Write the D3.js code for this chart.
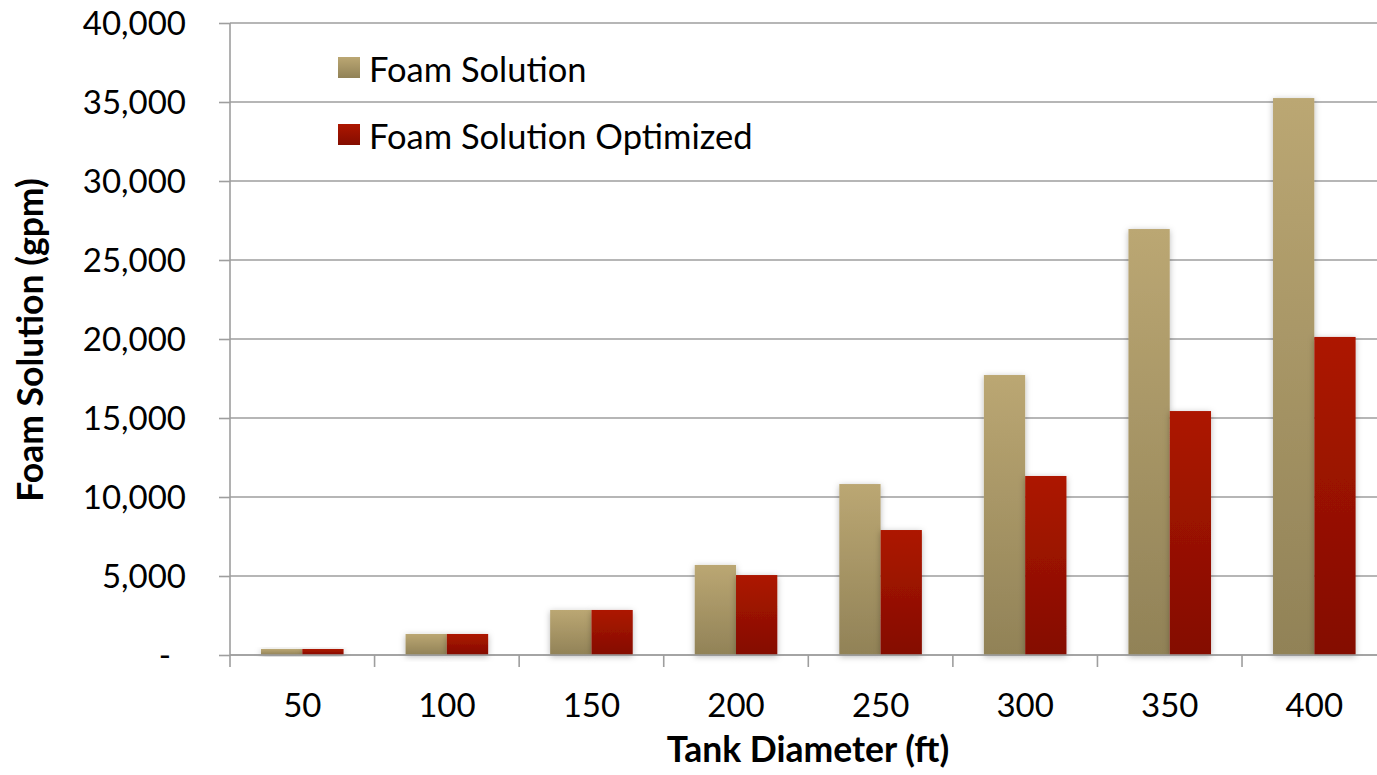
<!DOCTYPE html>
<html><head><meta charset="utf-8">
<script src="https://cdn.jsdelivr.net/npm/d3@7"></script>
<style>body{margin:0;background:#fff}svg{display:block}text{font-family:Lato,"Open Sans",sans-serif}</style>
</head><body>
<svg id="c" width="1377" height="775"></svg>
<script>
const categories = ["50","100","150","200","250","300","350","400"];
const seriesNames = ["Foam Solution","Foam Solution Optimized"];
const foamSolution = [380, 1330, 2850, 5700, 10820, 17720, 26960, 35250];
const foamOptimized = [380, 1330, 2850, 5060, 7910, 11330, 15440, 20130];
const yTicks = [0,5000,10000,15000,20000,25000,30000,35000,40000];

(function(){
const svg = d3.select("#c");
const defs = svg.append("defs");
const grads = [["g0","#BBA773","#918257"],["g1","#AD1600","#840D00"]];
grads.forEach(([id,a,b])=>{
  const g = defs.append("linearGradient").attr("id",id).attr("x1",0).attr("y1",0).attr("x2",0).attr("y2",1);
  g.append("stop").attr("offset","0%").attr("stop-color",a);
  g.append("stop").attr("offset","100%").attr("stop-color",b);
});
const f = defs.append("filter").attr("id","sh").attr("x","-30%").attr("y","-30%").attr("width","160%").attr("height","160%");
f.append("feDropShadow").attr("dx",0).attr("dy",1.5).attr("stdDeviation",3).attr("flood-color","#000").attr("flood-opacity",0.28);

const pLeft = 230, pRight = 1386.6, pTop = 23, pBottom = 655;
const x = d3.scaleBand().domain(categories).range([pLeft,pRight]).padding(0);
const step = x.step();
const gap = 31;
const x1 = d3.scaleBand().domain(seriesNames).range([gap, step-gap]).padding(0);
const y = d3.scaleLinear().domain([0,40000]).range([pBottom, pTop]);

const yAxis = d3.axisLeft(y).tickValues(yTicks).tickSize(11)
  .tickFormat(d => d===0 ? "-" : d3.format(",")(d));
const ga = svg.append("g").attr("transform",`translate(${pLeft},0)`).call(yAxis);
ga.select(".domain").remove();
ga.selectAll(".tick line").attr("stroke","#9E9E9E").attr("stroke-width",1.6);
ga.selectAll(".tick text").attr("x",-44).attr("dy","0.36em").attr("font-size",33).attr("fill","#000");
ga.selectAll(".tick").filter(d=>d===0).select("text").attr("x",-59);
svg.append("g").selectAll("line").data(yTicks).join("line")
  .attr("x1",pLeft).attr("x2",1377).attr("y1",d=>y(d)).attr("y2",d=>y(d))
  .attr("stroke","#9E9E9E").attr("stroke-width",1.6);
svg.append("line").attr("x1",pLeft).attr("x2",pLeft).attr("y1",pTop).attr("y2",pBottom+1)
  .attr("stroke","#9E9E9E").attr("stroke-width",1.6);

const data = categories.map((c,i)=>({c, vals:[foamSolution[i], foamOptimized[i]]}));
const gb = svg.append("g");
data.forEach(d=>{
  d.vals.forEach((v,j)=>{
    gb.append("rect").attr("x", x(d.c)+x1(seriesNames[j])).attr("width", x1.bandwidth())
      .attr("y", y(v)).attr("height", y(0)-y(v)).attr("fill",`url(#g${j})`).attr("filter","url(#sh)");
  });
});

const xAxis = d3.axisBottom(x).tickSize(0).tickPadding(0);
const gx = svg.append("g").attr("transform",`translate(0,${pBottom})`).call(xAxis);
gx.select(".domain").remove();
gx.selectAll(".tick text").attr("y",62).attr("dy",0).attr("font-size",33).attr("fill","#000");
svg.append("line").attr("x1",pLeft).attr("x2",1377).attr("y1",pBottom).attr("y2",pBottom)
  .attr("stroke","#9E9E9E").attr("stroke-width",1.6);
svg.append("g").selectAll("line").data(categories.concat(["end"])).join("line")
  .attr("x1",d=>d==="end"?pRight:x(d)).attr("x2",d=>d==="end"?pRight:x(d))
  .attr("y1",pBottom).attr("y2",pBottom+12).attr("stroke","#9E9E9E").attr("stroke-width",1.6);

svg.append("text").attr("x",808).attr("y",762).attr("text-anchor","middle")
  .attr("font-size",35.5).attr("font-weight","bold").text("Tank Diameter (ft)");
svg.append("text").attr("transform","translate(43,340) rotate(-90)").attr("text-anchor","middle")
  .attr("font-size",35.5).attr("font-weight","bold").text("Foam Solution (gpm)");

const lg = svg.append("g");
seriesNames.forEach((s,i)=>{
  const yy = 57 + i*67;
  lg.append("rect").attr("x",338).attr("y",yy).attr("width",22).attr("height",21).attr("fill",`url(#g${i})`);
  lg.append("text").attr("x",369).attr("y",yy+25).attr("font-size",34.5).attr("fill","#000").text(s);
});
})();
</script>
</body></html>
